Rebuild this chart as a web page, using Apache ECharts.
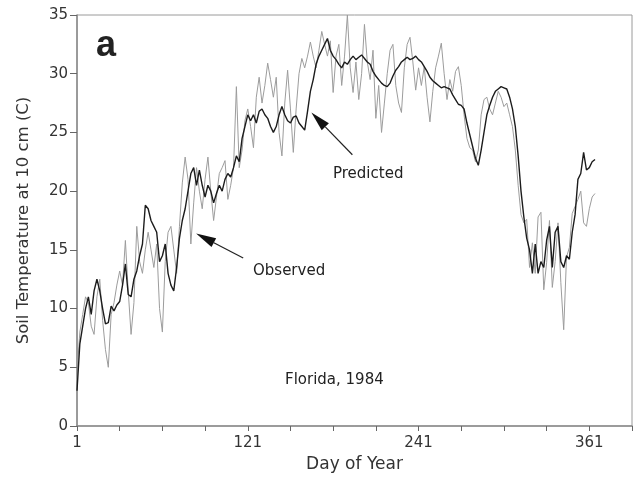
<!DOCTYPE html>
<html><head><meta charset="utf-8">
<script src="https://cdn.jsdelivr.net/npm/echarts@6/dist/echarts.min.js"></script>
<style>html,body{margin:0;padding:0;background:#fff}#c{width:640px;height:478px}</style>
</head><body><div id="c"></div>
<script>
// Day of year (every second day)
const days = [
  1,3,5,7,9,11,13,15,17,19,
  21,23,25,27,29,31,33,35,37,39,
  41,43,45,47,49,51,53,55,57,59,
  61,63,65,67,69,71,73,75,77,79,
  81,83,85,87,89,91,93,95,97,99,
  101,103,105,107,109,111,113,115,117,119,
  121,123,125,127,129,131,133,135,137,139,
  141,143,145,147,149,151,153,155,157,159,
  161,163,165,167,169,171,173,175,177,179,
  181,183,185,187,189,191,193,195,197,199,
  201,203,205,207,209,211,213,215,217,219,
  221,223,225,227,229,231,233,235,237,239,
  241,243,245,247,249,251,253,255,257,259,
  261,263,265,267,269,271,273,275,277,279,
  281,283,285,287,289,291,293,295,297,299,
  301,303,305,307,309,311,313,315,317,319,
  321,323,325,327,329,331,333,335,337,339,
  341,343,345,347,349,351,353,355,357,359,
  361,363,365
];
// Predicted soil temperature (black)
const predicted = [
  3.0,7.0,8.5,10.0,11.0,9.5,11.5,12.5,11.5,10.0,
  8.7,8.8,10.2,9.8,10.3,10.6,12.0,13.8,11.2,11.0,
  12.5,13.2,14.5,15.5,18.8,18.5,17.5,17.0,16.5,14.0,
  14.5,15.5,13.0,12.0,11.5,13.5,16.0,17.5,18.5,20.0,
  21.5,22.0,20.5,21.8,20.5,19.5,20.5,20.0,19.0,19.8,
  20.5,20.0,21.0,21.5,21.2,22.0,23.0,22.5,24.5,25.5,
  26.5,26.0,26.5,25.8,26.8,27.0,26.5,26.2,25.5,25.0,
  25.5,26.5,27.2,26.5,26.0,25.8,26.3,26.4,25.8,25.5,
  25.2,26.8,28.5,29.5,30.8,31.5,32.0,32.5,33.0,32.0,
  31.5,31.2,30.8,30.5,31.0,30.8,31.2,31.5,31.2,31.4,
  31.6,31.3,31.0,30.8,30.2,29.8,29.5,29.2,29.0,28.9,
  29.2,29.8,30.3,30.6,31.0,31.2,31.4,31.2,31.3,31.5,
  31.2,31.0,30.6,30.2,29.7,29.4,29.2,29.0,28.8,28.9,
  28.8,28.7,28.2,27.8,27.4,27.3,27.0,25.8,24.8,23.8,
  22.8,22.2,23.5,25.0,26.5,27.3,28.0,28.5,28.7,28.9,
  28.8,28.7,28.0,27.0,25.5,23.0,20.0,17.8,16.0,15.0,
  13.0,15.5,13.0,14.0,13.5,15.8,17.0,13.5,16.5,17.0,
  14.0,13.5,14.5,14.2,16.5,18.0,21.0,21.5,23.3,21.8,
  22.0,22.5,22.7
];
// Observed soil temperature (grey)
const observed = [
  4.5,8.0,9.5,11.0,10.5,8.5,7.8,11.0,12.5,9.0,
  6.5,5.0,9.5,10.5,12.0,13.2,12.0,15.8,11.5,7.8,
  10.5,17.0,14.0,13.0,15.0,16.5,15.0,13.5,15.5,10.0,
  8.0,14.0,16.5,17.0,15.0,13.0,17.0,20.7,22.9,21.0,
  15.5,19.0,22.0,20.0,18.5,21.0,22.9,20.0,17.5,19.5,
  21.5,22.0,22.6,19.3,20.5,22.0,28.9,22.0,23.5,26.0,
  27.0,25.5,23.7,28.0,29.7,27.5,29.0,30.9,29.5,28.0,
  29.7,25.0,23.0,27.5,30.3,27.0,23.3,27.0,30.0,31.3,
  30.5,31.5,32.7,31.5,30.5,32.0,33.6,32.5,31.5,32.8,
  28.4,31.5,32.5,29.0,31.5,35.0,30.5,28.4,31.0,27.8,
  30.0,34.2,31.0,29.5,32.0,26.2,29.0,25.0,27.5,30.0,
  32.0,32.5,29.0,27.5,26.7,30.5,32.5,33.1,31.0,28.6,
  30.5,29.0,30.6,28.0,25.9,28.5,30.5,31.5,32.6,30.0,
  27.8,29.5,28.5,30.2,30.6,29.0,26.5,24.5,23.7,23.5,
  22.5,23.5,26.5,27.8,28.0,27.0,26.5,27.5,28.5,28.0,
  27.2,27.5,26.5,25.5,23.5,20.5,18.0,17.3,17.6,13.5,
  15.6,13.0,17.8,18.2,11.6,13.9,17.5,11.8,14.0,17.3,
  12.2,8.2,14.4,15.2,18.1,18.7,19.3,20.0,17.3,17.0,
  18.5,19.5,19.8
];
const xTicks = [1,31,61,91,121,151,181,211,241,271,301,331,361,391];
const xLabels = [1,121,241,361];
const yTicks = [0,5,10,15,20,25,30,35];
// annotation arrows in data coordinates: [tail, tip]
const arrowObserved = [[117.8,14.3],[84.7,16.4]];
const arrowPredicted = [[194.5,23.1],[165.7,26.7]];

const FONT = 'DejaVu Sans';
const chart = echarts.init(document.getElementById('c'), null, {renderer:'canvas'});
const obsData = days.map((d,i)=>[d,observed[i]]);
const predData = days.map((d,i)=>[d,predicted[i]]);

chart.setOption({
  animation:false,
  backgroundColor:'#ffffff',
  grid:{left:77,right:8,top:15,bottom:52,show:true,borderColor:'#9a9a9a',borderWidth:1},
  xAxis:{
    type:'value',min:1,max:391,
    axisLine:{show:true,onZero:false,lineStyle:{color:'#8a8a8a',width:1.5}},
    axisTick:{show:true,length:5,customValues:xTicks,lineStyle:{color:'#666'}},
    axisLabel:{customValues:xLabels,margin:10,color:'#333',fontSize:15,fontFamily:FONT},
    splitLine:{show:false},
    name:'Day of Year',nameLocation:'middle',nameGap:23,
    nameTextStyle:{color:'#333',fontSize:17,fontFamily:FONT}
  },
  yAxis:{
    type:'value',min:0,max:35,interval:5,
    axisLine:{show:true,onZero:false,lineStyle:{color:'#8a8a8a',width:1.5}},
    axisTick:{show:true,length:7,lineStyle:{color:'#666'}},
    axisLabel:{margin:9,color:'#333',fontSize:15,fontFamily:FONT},
    splitLine:{show:false},
    name:'Soil Temperature at 10 cm (C)',nameLocation:'middle',nameGap:45,
    nameTextStyle:{color:'#333',fontSize:16.5,fontFamily:FONT}
  },
  series:[
    {type:'line',data:obsData,showSymbol:false,symbol:'none',lineStyle:{color:'#9c9c9c',width:1},z:2},
    {type:'line',data:predData,showSymbol:false,symbol:'none',lineStyle:{color:'#1c1c1c',width:1.4},z:3}
  ]
});

function arrowGraphics(arr){
  const t = chart.convertToPixel({gridIndex:0}, arr[0]);
  const p = chart.convertToPixel({gridIndex:0}, arr[1]);
  const dx=p[0]-t[0], dy=p[1]-t[1], len=Math.hypot(dx,dy);
  const ux=dx/len, uy=dy/len, nx=-uy, ny=ux;
  const L=20, W=5;
  const bx=p[0]-ux*L, by=p[1]-uy*L;
  return [
    {type:'line',shape:{x1:t[0],y1:t[1],x2:bx,y2:by},style:{stroke:'#222',lineWidth:1.2},z:10},
    {type:'polygon',shape:{points:[[p[0],p[1]],[bx+nx*W,by+ny*W],[bx-nx*W,by-ny*W]]},style:{fill:'#111'},z:10}
  ];
}
function txt(s,x,y,size,weight,family){
  return {type:'text',x:x,y:y,z:11,style:{text:s,fill:'#222',font:(weight||'normal')+' '+size+'px "'+(family||FONT)+'"',
    align:'left',verticalAlign:'middle',textAlign:'left',textVerticalAlign:'middle'}};
}
chart.setOption({graphic:{elements:[
  ...arrowGraphics(arrowObserved),
  ...arrowGraphics(arrowPredicted),
  txt('a',96,46,36,'bold','Liberation Sans'),
  txt('Predicted',333,174,15),
  txt('Observed',253,271,15),
  txt('Florida, 1984',285,380,15)
]}});
</script></body></html>
